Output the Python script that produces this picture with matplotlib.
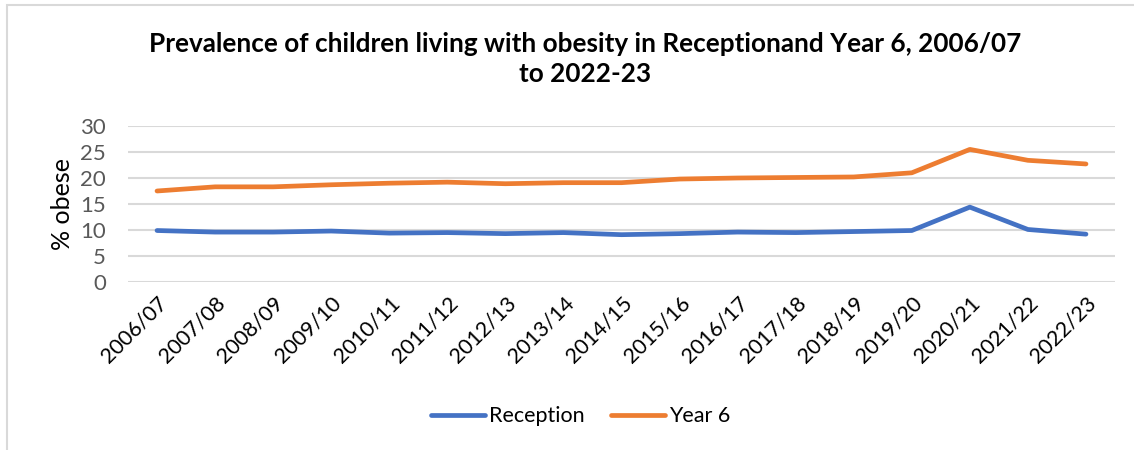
import matplotlib.pyplot as plt
from matplotlib.patches import Rectangle

plt.rcParams['font.family'] = ['Lato', 'DejaVu Sans']

# School years and obesity prevalence (%)
years = ['2006/07', '2007/08', '2008/09', '2009/10', '2010/11', '2011/12',
         '2012/13', '2013/14', '2014/15', '2015/16', '2016/17', '2017/18',
         '2018/19', '2019/20', '2020/21', '2021/22', '2022/23']
reception = [9.9, 9.6, 9.6, 9.8, 9.4, 9.5, 9.3, 9.5, 9.1, 9.3, 9.6, 9.5,
             9.7, 9.9, 14.4, 10.1, 9.2]
year6 = [17.5, 18.3, 18.3, 18.7, 19.0, 19.2, 18.9, 19.1, 19.1, 19.8, 20.0,
         20.1, 20.2, 21.0, 25.5, 23.4, 22.7]

fig = plt.figure(figsize=(11.34, 4.5), dpi=100)
ax = fig.add_axes([128 / 1134, 168 / 450, 987 / 1134, 156 / 450])

# chart frame
fig.patches.append(Rectangle((7 / 1134, -0.1), 1.2, 1.1 - 5 / 450,
                             transform=fig.transFigure, fill=False,
                             edgecolor='#d9d9d9', linewidth=1.5))

x = range(len(years))
ax.plot(x, reception, color='#4472C4', linewidth=3.4,
        solid_capstyle='round', solid_joinstyle='round', label='Reception')
ax.plot(x, year6, color='#ED7D31', linewidth=3.4,
        solid_capstyle='round', solid_joinstyle='round', label='Year 6')

ax.set_xlim(-0.5, len(years) - 0.5)
ax.set_ylim(0, 30)
ax.set_yticks(range(0, 31, 5))
ax.grid(axis='y', color='#d9d9d9', linewidth=1.5)
ax.set_axisbelow(True)
for s in ax.spines.values():
    s.set_visible(False)

ax.set_xticks(list(x))
ax.set_xticklabels(years, rotation=45, ha='right', rotation_mode='anchor',
                   fontsize=15.5, color='black')
ax.tick_params(axis='x', length=0, pad=8)
ax.tick_params(axis='y', length=0, pad=16, labelsize=16, labelcolor='#595959')
ax.set_ylabel('% obese', fontsize=18, labelpad=4)

fig.text(0.516, 0.869,
         'Prevalence of children living with obesity in Receptionand Year 6, 2006/07\nto 2022-23',
         ha='center', va='center', fontsize=18.8, fontweight='bold',
         linespacing=1.3)

fig.legend(loc='center', bbox_to_anchor=(0.512, 0.075), ncol=2, frameon=False,
           fontsize=15.5, handlelength=2.5, handletextpad=0.2,
           columnspacing=1.2)

fig.savefig('out.png', dpi=100)
